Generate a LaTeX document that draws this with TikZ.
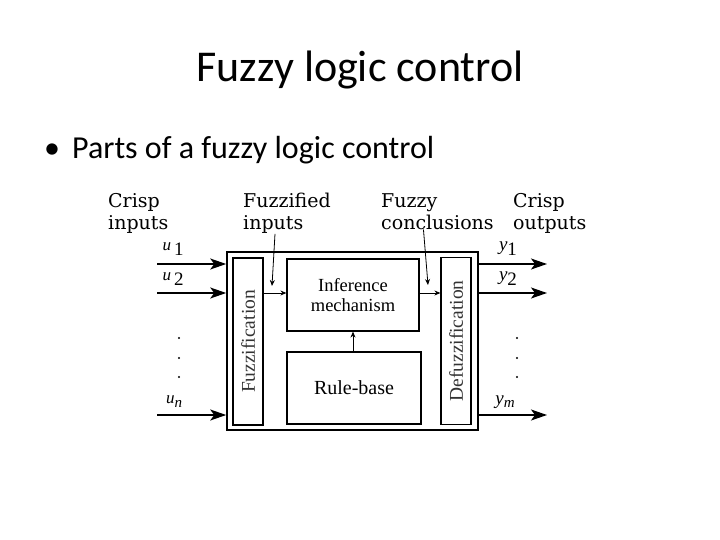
\documentclass[tikz,border=0pt]{standalone}
\usepackage{fontspec}
\usepackage{tikz}
\usetikzlibrary{arrows.meta,positioning}
\setmainfont{Carlito}
\newfontfamily\labelfont{DejaVu Serif}
\newfontfamily\boxfont{Liberation Serif}

\begin{document}
\begin{tikzpicture}[
    x=1pt, y=-1pt,
    block/.style={rectangle, draw, line width=1.2pt, inner sep=0pt},
    vblock/.style={block, minimum width=30pt, minimum height=167pt},
    tag/.style={align=left, inner sep=0pt, anchor=north west, font=\labelfont\fontsize{19}{22}\selectfont},
    sig/.style={inner sep=0pt, font=\boxfont\fontsize{19}{19}\selectfont},
    bigarrow/.style={line width=1.4pt, -{Stealth[length=16pt, width=11pt, inset=4pt]}},
    smallarrow/.style={line width=0.8pt, -{Stealth[length=6pt, width=5pt]}}
]
\useasboundingbox (0,0) rectangle (720,540);
\node[anchor=base] (title) at (360,82) {\fontsize{44}{52}\selectfont Fuzzy logic control};
\node[anchor=base west, inner sep=0pt] (point) at (44,159) {\fontsize{32}{38}\selectfont \textbullet\hspace{12pt}Parts of a fuzzy logic control};

\node[block, line width=1.6pt, minimum width=251pt, minimum height=178pt] (flc) at (352.5,341) {};
\node[vblock] (fuzz) at (248,341.5) {};
\node[rotate=90, text=black!80, font=\boxfont\fontsize{19.5}{19.5}\selectfont] at (fuzz.center) {Fuzzification};
\node[vblock] (defuzz) at (456,341) {};
\node[rotate=90, text=black!80, font=\boxfont\fontsize{19.5}{19.5}\selectfont] at (defuzz.center) {Defuzzification};
\node[block, minimum width=132pt, minimum height=72pt, align=center, font=\boxfont\fontsize{18.5}{19.5}\selectfont] (infer) at (353,295) {Inference\\mechanism};
\node[block, minimum width=134pt, minimum height=72pt, font=\boxfont\fontsize{20}{20}\selectfont] (rules) at (354,388) {Rule-base};

\node[tag] (crispin) at (108,193) {Crisp\\inputs};
\node[tag] (fuzzin) at (243,193) {Fuzzified\\inputs};
\node[tag] (fuzzout) at (381,193) {Fuzzy\\conclusions};
\node[tag] (crispout) at (513,193) {Crisp\\outputs};

\node[sig] (u1) at (173,249) {{\fontsize{17}{17}\selectfont\itshape u}\hspace{3pt}\raisebox{-5pt}{1}};
\node[sig] (u2) at (173,279) {{\fontsize{17}{17}\selectfont\itshape u}\hspace{3pt}\raisebox{-5pt}{2}};
\node[sig] (un) at (174,402) {{\fontsize{17}{17}\selectfont\itshape u}\raisebox{-4pt}{\fontsize{15}{15}\selectfont\itshape n}};
\node[sig] (y1) at (508,249) {{\itshape y}\raisebox{-5pt}{1}};
\node[sig] (y2) at (508,279) {{\itshape y}\raisebox{-5pt}{2}};
\node[sig] (ym) at (505,402) {{\itshape y}\raisebox{-3pt}{\fontsize{15}{15}\selectfont\itshape m}};

\coordinate (in1) at (157,264);
\coordinate (in2) at (157,293);
\coordinate (inn) at (157,415);
\coordinate (out1) at (547,264);
\coordinate (out2) at (547,293);
\coordinate (outm) at (547,415);
\coordinate (fztip) at (272,286);
\coordinate (cltip) at (428,285);

\draw[bigarrow] (in1) -- (in1 -| flc.west);
\draw[bigarrow] (in2) -- (in2 -| flc.west);
\draw[bigarrow] (inn) -- (inn -| flc.west);
\draw[bigarrow] (out1 -| flc.east) -- (out1);
\draw[bigarrow] (out2 -| flc.east) -- (out2);
\draw[bigarrow] (outm -| flc.east) -- (outm);

\draw[smallarrow] (fuzz.east |- in2) -- (infer.west |- in2);
\draw[smallarrow] (infer.east |- in2) -- (defuzz.west |- in2);
\draw[smallarrow] (rules.north -| infer.south) -- (infer.south);
\draw[smallarrow] ([xshift=-12pt]fuzzin.south) -- (fztip);
\draw[smallarrow] ([xshift=-14pt]fuzzout.south) -- (cltip);

\fill (179,338) circle (1.2pt);
\fill (179,358) circle (1.2pt);
\fill (179,377) circle (1.2pt);
\fill (517,338) circle (1.2pt);
\fill (517,358) circle (1.2pt);
\fill (517,377) circle (1.2pt);
\end{tikzpicture}
\end{document}
